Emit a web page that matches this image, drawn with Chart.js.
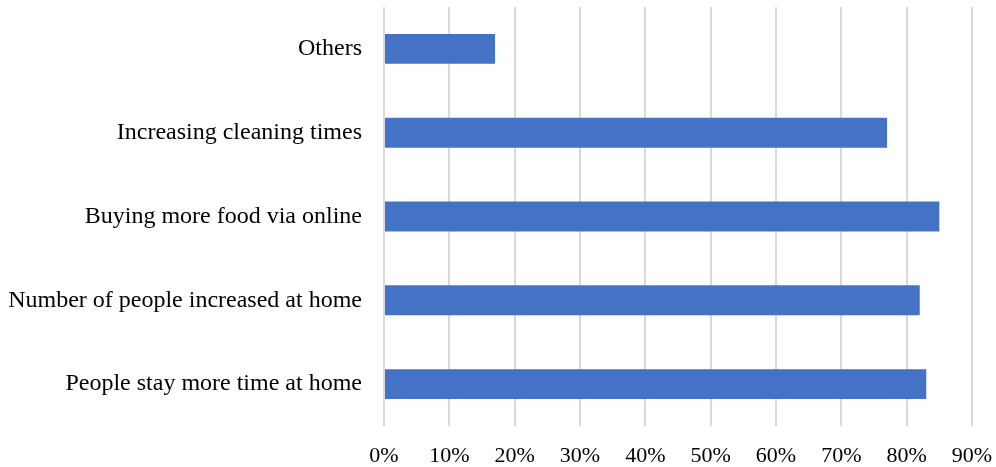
<!DOCTYPE html>
<html>
<head>
<meta charset="utf-8">
<script src="https://cdn.jsdelivr.net/npm/chart.js@4/dist/chart.umd.min.js"></script>
<style>
  html, body { margin: 0; padding: 0; background: #fff; }
  #wrap { width: 996px; height: 467px; position: relative; }
</style>
</head>
<body>
<div id="wrap"><canvas id="chart"></canvas></div>
<script>
// categories from top to bottom
const categories = [
  "Others",
  "Increasing cleaning times",
  "Buying more food via online",
  "Number of people increased at home",
  "People stay more time at home"
];
const percentValues = [17, 77, 85, 82, 83];
const xTickLabels = ["0%", "10%", "20%", "30%", "40%", "50%", "60%", "70%", "80%", "90%"];

const serif = "'Liberation Serif', 'Times New Roman', serif";
const ctx = document.getElementById("chart").getContext("2d");

new Chart(ctx, {
  type: "bar",
  data: {
    labels: categories,
    datasets: [{
      data: percentValues,
      backgroundColor: "#4472C4",
      categoryPercentage: 1,
      barPercentage: 0.357
    }]
  },
  options: {
    indexAxis: "y",
    responsive: true,
    maintainAspectRatio: false,
    animation: false,
    layout: { padding: { top: 7, right: 24, bottom: 0, left: 0 } },
    plugins: {
      legend: { display: false },
      tooltip: { enabled: false }
    },
    scales: {
      x: {
        min: 0,
        max: 90,
        ticks: {
          stepSize: 10,
          padding: 17,
          color: "#000",
          font: { family: serif, size: 22 },
          callback: (v, i) => xTickLabels[i]
        },
        grid: { color: "#d9d9d9", lineWidth: 2, drawTicks: false },
        border: { display: false },
        afterFit: (scale) => {
          scale.height = 41;
          scale.paddingLeft = 0;
          scale.paddingRight = 0;
        }
      },
      y: {
        ticks: {
          padding: 22,
          color: "#000",
          font: { family: serif, size: 24 }
        },
        grid: { display: false, drawTicks: false },
        border: { display: false },
        afterFit: (scale) => {
          scale.width = 384;
          scale.paddingTop = 0;
          scale.paddingBottom = 0;
        }
      }
    }
  }
});
</script>
</body>
</html>
